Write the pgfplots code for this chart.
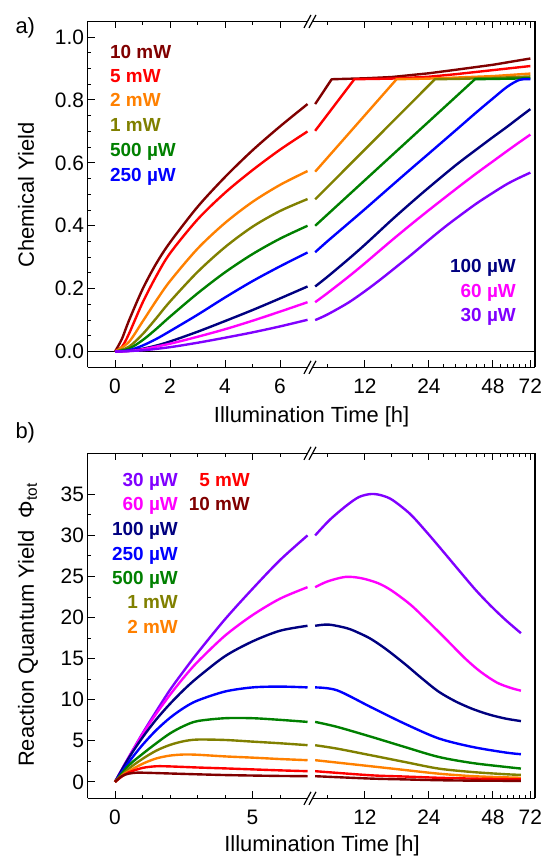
\documentclass[border=0pt]{standalone}
\usepackage{fontspec}
\setmainfont{Liberation Sans}
\usepackage{pgfplots}
\pgfplotsset{compat=1.18}

\definecolor{cwine}{RGB}{128,0,0}
\definecolor{cred}{RGB}{255,0,0}
\definecolor{corange}{RGB}{255,128,0}
\definecolor{colive}{RGB}{128,128,0}
\definecolor{cgreen}{RGB}{0,128,0}
\definecolor{cblue}{RGB}{0,0,255}
\definecolor{cnavy}{RGB}{0,0,128}
\definecolor{cmagenta}{RGB}{255,0,255}
\definecolor{cviolet}{RGB}{128,0,255}

\pgfplotsset{
  base/.style={
    scale only axis, anchor=south west,
    axis x line*=box,
    tick align=inside,
    major tick length=7bp, minor tick length=3.5bp,
    every tick/.append style={line width=1pt, black},
    axis line style={line width=1.2pt},
    tick label style={font=\fontsize{21}{25}\selectfont},
    xticklabel style={yshift=-8bp},
    /pgf/number format/assume math mode=true,
    every axis plot/.append style={line width=2.4pt, line join=round},
  },
  leftpart/.style={base, axis y line*=left, ytick pos=left, width=222.5bp, xmin=-1, xmax=7.09},
  rightpart/.style={base, axis y line*=right, ytick=\empty, width=225bp,
    xmin=6.62, xmax=75.7, xtick={12,24,48,72}, xticklabels={12,24,48,72},
    minor xtick={8,16,20,28,32,36,40,44,52,56,60,64,68}},
  panela/.style={height=345.9bp, ymin=-0.05, ymax=1.05},
  panelb/.style={height=345bp, ymin=-2, ymax=40},
}

% break symbol "//" on a horizontal axis line
\newcommand\brk[2]{%
  \fill[white] (#1-6,#2-6.5) -- (#1+1,#2+6.5) -- (#1+6,#2+6.5) -- (#1-1,#2-6.5) -- cycle;
  \draw[line width=1.2pt] (#1-6,#2-6.5) -- (#1+1,#2+6.5);
  \draw[line width=1.2pt] (#1-1,#2-6.5) -- (#1+6,#2+6.5);
}

\begin{document}
\begin{tikzpicture}[x=1bp, y=1bp]
\useasboundingbox (0,0) rectangle (543,856);

%% ---------------- panel a ----------------
\begin{axis}[leftpart, panela, at={(87.5bp,488.7bp)},
  xtick={0,2,4,6}, minor xtick={1,3,5},
  ytick={0,0.2,0.4,0.6,0.8,1.0}, yticklabels={0.0,0.2,0.4,0.6,0.8,1.0}, minor y tick num=3]
\addplot[black, line width=1pt] coordinates {(-1,0) (7.09,0)};
\addplot[cwine, smooth] coordinates {(0,0) (0.25,0.04) (0.5,0.097) (1,0.198) (1.5,0.28) (2,0.347) (3,0.46) (4,0.555) (5,0.64) (6,0.716) (7,0.787)};
\addplot[cred, smooth] coordinates {(0,0) (0.25,0.015) (0.5,0.055) (1,0.155) (1.5,0.24) (2,0.3125) (3,0.42) (4,0.505) (5,0.577) (6,0.642) (7,0.70)};
\addplot[corange, smooth] coordinates {(0,0) (0.5,0.03) (1,0.095) (1.5,0.162) (2,0.224) (3,0.327) (4,0.409) (5,0.476) (6,0.53) (7,0.574)};
\addplot[colive, smooth] coordinates {(0,0) (0.5,0.015) (1,0.055) (1.5,0.106) (2,0.159) (3,0.253) (4,0.332) (5,0.397) (6,0.447) (7,0.485)};
\addplot[cgreen, smooth] coordinates {(0,0) (0.5,0.009) (1,0.036) (1.5,0.072) (2,0.111) (3,0.185) (4,0.252) (5,0.31) (6,0.359) (7,0.40)};
\addplot[cblue, smooth] coordinates {(0,0) (0.5,0.004) (1,0.019) (1.5,0.04) (2,0.065) (3,0.117) (4,0.172) (5,0.224) (6,0.271) (7,0.315)};
\addplot[cnavy, smooth] coordinates {(0,0) (0.5,0.002) (1,0.009) (1.5,0.019) (2,0.032) (3,0.063) (4,0.097) (5,0.132) (6,0.169) (7,0.207)};
\addplot[cmagenta, smooth] coordinates {(0,0) (0.5,0.0015) (1,0.007) (2,0.025) (3,0.047) (4,0.071) (5,0.098) (6,0.127) (7,0.157)};
\addplot[cviolet, smooth] coordinates {(0,0) (1,0.004) (2,0.014) (3,0.028) (4,0.044) (5,0.061) (6,0.08) (7,0.101)};
\end{axis}

\begin{semilogxaxis}[rightpart, panela, at={(310bp,488.7bp)}]
\addplot[black, line width=1pt] coordinates {(6.62,0) (75.7,0)};
\addplot[cwine] coordinates {(7,0.787) (8.37,0.866) (12,0.869) (16,0.873) (24,0.885) (32,0.896) (48,0.912) (72,0.932)};
\addplot[cred] coordinates {(7,0.702) (10.7,0.866) (16,0.868) (24,0.874) (32,0.882) (48,0.895) (72,0.908)};
\addplot[corange] coordinates {(7,0.572) (16.9,0.866) (24,0.868) (48,0.876) (72,0.884)};
\addplot[colive] coordinates {(7,0.484) (25.6,0.866) (32,0.867) (48,0.870) (72,0.875)};
\addplot[cgreen] coordinates {(7,0.40) (39.5,0.866) (48,0.867) (72,0.869)};
\addplot[cblue, smooth] coordinates {(7,0.316) (8,0.351) (10,0.407) (12,0.453) (16,0.527) (20,0.584) (24,0.63) (32,0.703) (40,0.76) (48,0.805) (56,0.842) (64,0.864) (72,0.866)};
\addplot[cnavy, smooth] coordinates {(7,0.207) (8,0.238) (10,0.293) (12,0.34) (16,0.418) (20,0.476) (24,0.522) (32,0.592) (40,0.642) (48,0.682) (56,0.715) (64,0.745) (72,0.771)};
\addplot[cmagenta, smooth] coordinates {(7,0.157) (8,0.186) (10,0.237) (12,0.281) (16,0.353) (20,0.407) (24,0.45) (32,0.516) (40,0.566) (48,0.605) (56,0.638) (64,0.666) (72,0.69)};
\addplot[cviolet, smooth] coordinates {(7,0.10) (8,0.118) (10,0.155) (12,0.192) (14,0.226) (16,0.257) (20,0.31) (24,0.355) (28,0.392) (32,0.422) (40,0.47) (48,0.505) (56,0.533) (64,0.553) (72,0.569)};
\end{semilogxaxis}

%% ---------------- panel b ----------------
\begin{axis}[leftpart, panelb, at={(87.5bp,57.7bp)},
  xtick={0,5}, minor xtick={1,2,3,4,6},
  ytick={0,5,...,35}, minor y tick num=1]
\addplot[cviolet, smooth] coordinates {(0,0) (0.5,3.0) (1,5.9) (1.5,8.6) (2,11.2) (2.5,13.5) (3,15.7) (4,19.8) (5,23.5) (6,27.0) (7,30.0)};
\addplot[cmagenta, smooth] coordinates {(0,0) (0.5,3.0) (1,5.8) (1.5,8.3) (2,10.6) (2.5,12.7) (3,14.6) (4,17.8) (5,20.3) (6,22.3) (7,23.7)};
\addplot[cnavy, smooth] coordinates {(0,0) (0.5,2.9) (1,5.4) (1.5,7.6) (2,9.5) (2.5,11.2) (3,12.7) (4,15.3) (5,17.1) (6,18.4) (7,19.0)};
\addplot[cblue, smooth] coordinates {(0,0) (0.5,2.4) (1,4.5) (1.5,6.3) (2,7.8) (2.5,9.0) (3,9.9) (4,11.0) (5,11.5) (6,11.6) (7,11.5)};
\addplot[cgreen, smooth] coordinates {(0,0) (0.5,2.0) (1,3.4) (1.5,4.7) (2,5.9) (2.5,6.8) (3,7.4) (4,7.75) (5,7.75) (6,7.55) (7,7.3)};
\addplot[colive, smooth] coordinates {(0,0) (0.5,1.6) (1,2.8) (1.5,3.8) (2,4.5) (2.5,4.95) (3,5.15) (4,5.1) (5,4.9) (6,4.7) (7,4.47)};
\addplot[corange, smooth] coordinates {(0,0) (0.25,0.75) (0.5,1.3) (1,2.2) (1.5,2.85) (2,3.2) (2.5,3.33) (3,3.3) (4,3.1) (5,2.95) (6,2.78) (7,2.64)};
\addplot[cred, smooth] coordinates {(0,0) (0.25,0.65) (0.5,1.15) (1,1.7) (1.5,1.9) (2,1.88) (3,1.75) (4,1.64) (5,1.52) (6,1.4) (7,1.3)};
\addplot[cwine, smooth] coordinates {(0,0) (0.25,0.7) (0.5,1.0) (0.8,1.12) (1.2,1.1) (2,1.02) (3,0.92) (4,0.83) (5,0.77) (6,0.72) (7,0.69)};
\end{axis}

\begin{semilogxaxis}[rightpart, panelb, at={(310bp,57.7bp)}]
\addplot[cviolet, smooth] coordinates {(7,30.0) (8.2,31.9) (9.9,33.7) (11.3,34.7) (12.9,35.05) (14.5,34.85) (16.2,34.3) (19.6,32.6) (23.6,30.3) (28.3,27.9) (34.1,25.4) (40,23.3) (47,21.4) (55.1,19.7) (65,18.1)};
\addplot[cmagenta, smooth] coordinates {(7,23.7) (8,24.4) (9.7,24.95) (11.5,24.8) (13.8,24.2) (16,23.3) (19.6,21.6) (23,19.9) (28.3,17.6) (35.6,15.0) (42,13.4) (50,12.1) (58,11.45) (65,11.1)};
\addplot[cnavy, smooth] coordinates {(7,19.0) (8.1,19.15) (9.9,18.7) (11.3,18.1) (12.8,17.4) (15,16.2) (18.4,14.4) (22,12.7) (26.6,11.0) (32,9.8) (38.3,8.9) (46,8.2) (55.1,7.7) (65,7.4)};
\addplot[cblue, smooth] coordinates {(7,11.5) (8.86,11.15) (12.8,9.1) (18.4,7.1) (26.6,5.3) (38.3,4.26) (55.1,3.57) (65,3.37)};
\addplot[cgreen, smooth] coordinates {(7,7.3) (8.86,6.7) (12.8,5.5) (18.4,4.26) (26.6,3.04) (38.3,2.3) (55.1,1.82) (65,1.62)};
\addplot[colive, smooth] coordinates {(7,4.46) (8.86,4.05) (12.8,3.24) (18.4,2.43) (26.6,1.62) (38.3,1.2) (55.1,0.93) (65,0.85)};
\addplot[corange, smooth] coordinates {(7,2.64) (12.8,1.9) (18.4,1.45) (26.6,1.0) (38.3,0.7) (55.1,0.55) (65,0.5)};
\addplot[cred, smooth] coordinates {(7,1.3) (12.8,0.8) (18.4,0.65) (26.6,0.5) (38.3,0.4) (65,0.3)};
\addplot[cwine, smooth] coordinates {(7,0.69) (12.8,0.4) (18.4,0.3) (26.6,0.2) (38.3,0.15) (65,0.12)};
\end{semilogxaxis}

%% axis breaks
\brk{310}{488.7}
\brk{310}{834.6}
\brk{310}{57.7}
\brk{310}{402.7}

%% texts
\tikzset{lab/.style={inner sep=0pt, text height=13.6bp, text depth=0pt, font=\fontsize{19}{22}\selectfont\bfseries}}
\node[anchor=west, font=\fontsize{22}{26}\selectfont] at (12,828) {a)};
\node[anchor=west, font=\fontsize{22}{26}\selectfont] at (12,423) {b)};
\node[rotate=90, font=\fontsize{22}{26}\selectfont] at (26,661) {Chemical Yield};
\node[rotate=90, font=\fontsize{22}{26}\selectfont] at (28,231) {Reaction Quantum Yield\ \ Φ\textsubscript{tot}};
\node[font=\fontsize{22}{26}\selectfont] at (311.6,439) {Illumination Time [h]};
\node[font=\fontsize{22}{26}\selectfont] at (322,10) {Illumination Time [h]};

\node[lab, anchor=west, text=cwine] at (110,804.3) {10 mW};
\node[lab, anchor=west, text=cred] at (110,780) {5 mW};
\node[lab, anchor=west, text=corange] at (110,756) {2 mW};
\node[lab, anchor=west, text=colive] at (110,731) {1 mW};
\node[lab, anchor=west, text=cgreen] at (110,706) {500 µW};
\node[lab, anchor=west, text=cblue] at (110,681) {250 µW};
\node[lab, anchor=east, text=cnavy] at (516,590) {100 µW};
\node[lab, anchor=east, text=cmagenta] at (516,565.5) {60 µW};
\node[lab, anchor=east, text=cviolet] at (516,541) {30 µW};

\node[lab, anchor=east, text=cviolet] at (178,376.7) {30 µW};
\node[lab, anchor=east, text=cmagenta] at (178,352.7) {60 µW};
\node[lab, anchor=east, text=cnavy] at (178,327.7) {100 µW};
\node[lab, anchor=east, text=cblue] at (178,302.7) {250 µW};
\node[lab, anchor=east, text=cgreen] at (178,278.7) {500 µW};
\node[lab, anchor=east, text=colive] at (178,254.3) {1 mW};
\node[lab, anchor=east, text=corange] at (178,229.3) {2 mW};
\node[lab, anchor=east, text=cred] at (250,376.7) {5 mW};
\node[lab, anchor=east, text=cwine] at (250,352.7) {10 mW};
\end{tikzpicture}
\end{document}
